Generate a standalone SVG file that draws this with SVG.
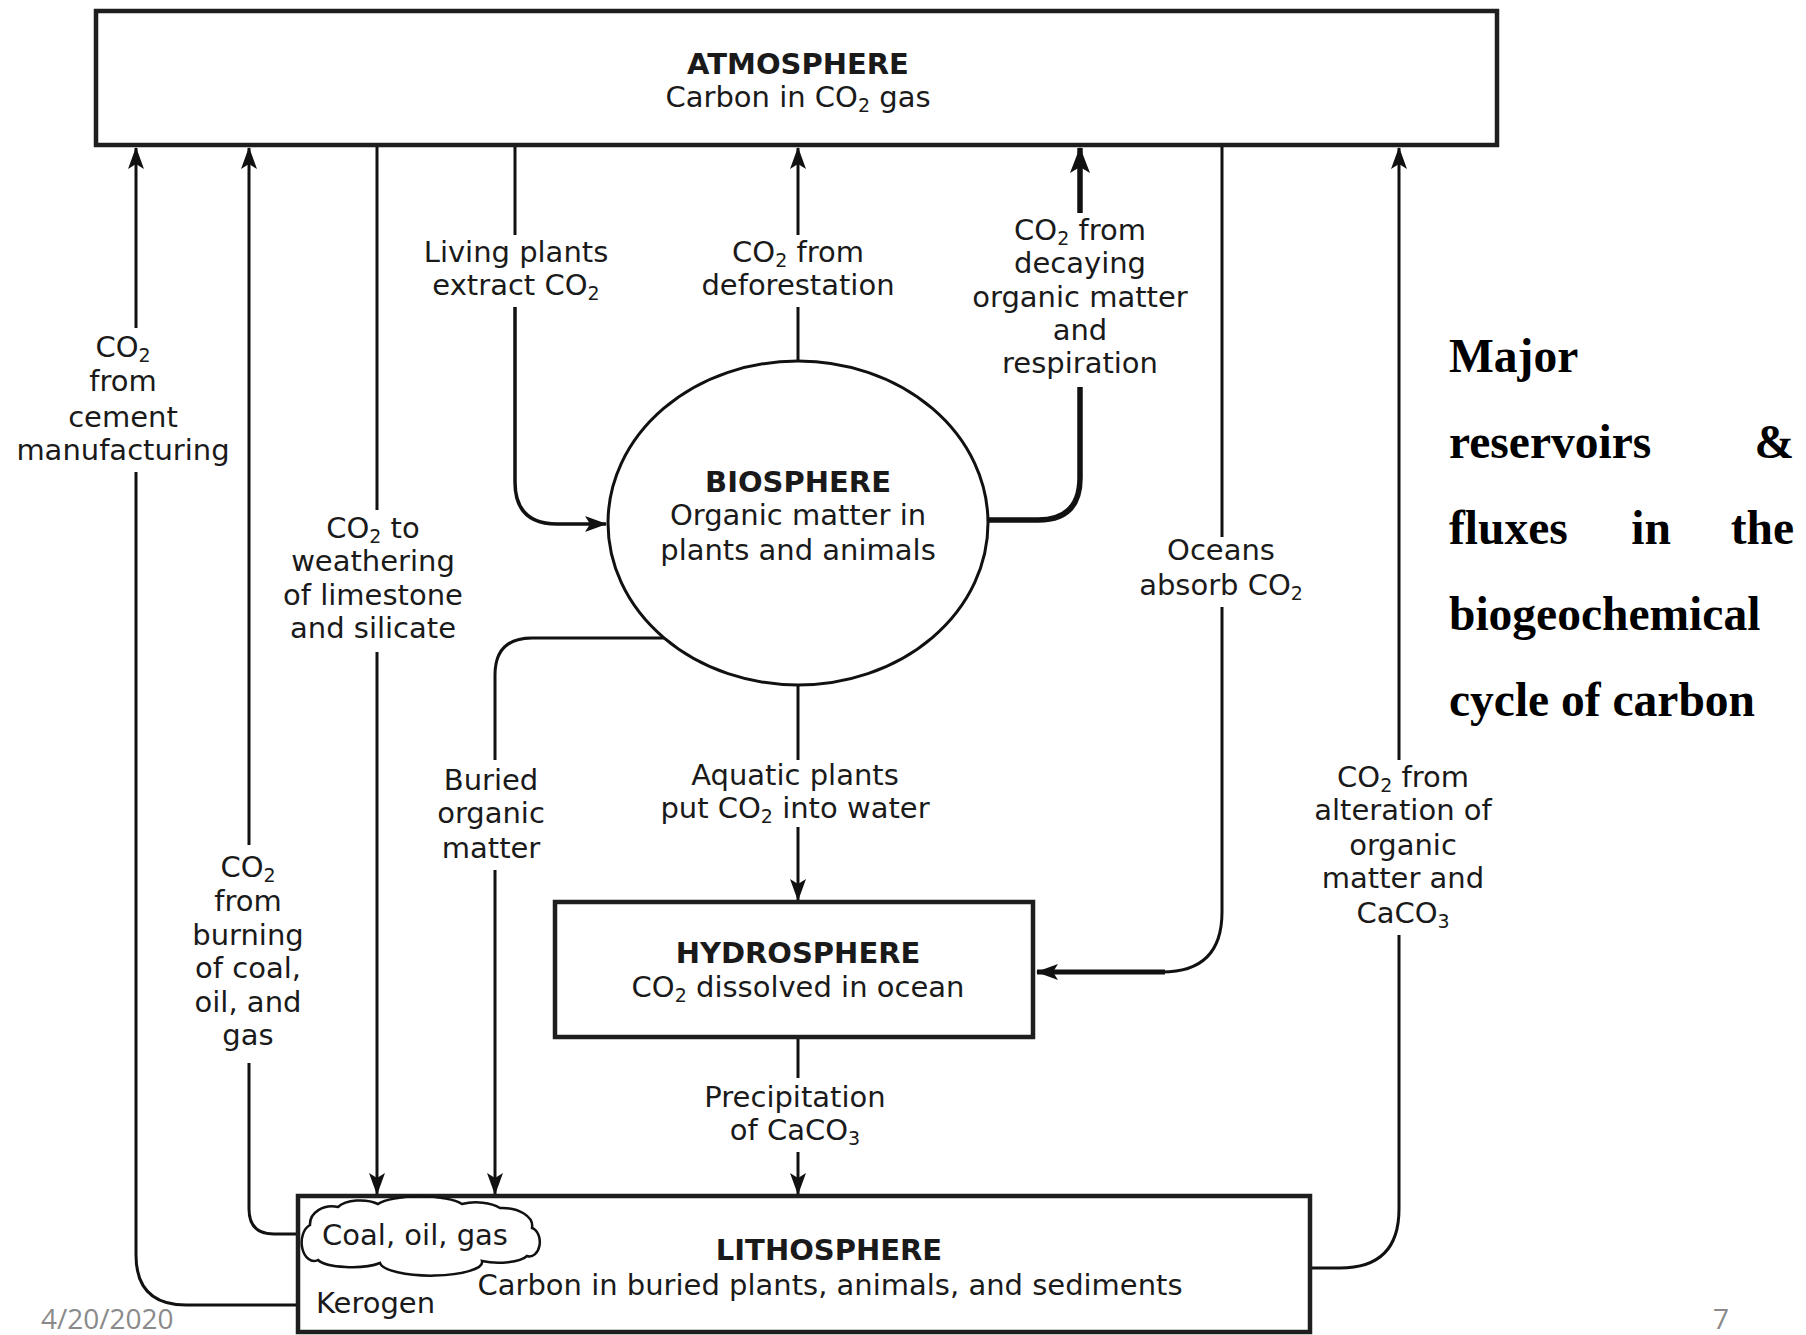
<svg xmlns="http://www.w3.org/2000/svg" width="1806" height="1335" viewBox="0 0 1806 1335">
<defs>
<style>
.t{font-family:"DejaVu Sans",sans-serif;font-size:29px;fill:#1a1a1a;text-anchor:middle}
.b{font-weight:bold}
.s{font-size:19px}
.c{fill:none;stroke:#111;stroke-width:3}
.k{stroke-width:5.5}
.box{fill:#fff;stroke:#1e1e1e;stroke-width:4.5}
.ttl{font-family:"Liberation Serif",serif;font-weight:bold;font-size:47.5px;fill:#000}
.ft{font-family:"Open Sans",sans-serif;font-size:28px;fill:#8a8a8a}
</style>
<marker id="ah" viewBox="0 0 22 16" refX="21" refY="8" markerWidth="22" markerHeight="16" markerUnits="userSpaceOnUse" orient="auto"><path d="M0,0 L22,8 L0,16 L5,8 Z" fill="#111"/></marker>
<marker id="ahk" viewBox="0 0 26 20" refX="25" refY="10" markerWidth="26" markerHeight="20" markerUnits="userSpaceOnUse" orient="auto"><path d="M0,0 L26,10 L0,20 L6,10 Z" fill="#111"/></marker>
</defs>
<rect width="1806" height="1335" fill="#fff"/>

<g id="connectors">
<!-- cement -->
<path class="c" d="M298,1305 L186,1305 Q136,1305 136,1255 L136,472"/>
<path class="c" d="M136,328 L136,148" marker-end="url(#ah)"/>
<!-- burning -->
<path class="c" d="M298,1234 L274,1234 Q249,1234 249,1209 L249,1063"/>
<path class="c" d="M249,845 L249,148" marker-end="url(#ah)"/>
<!-- weathering -->
<path class="c" d="M377,145 L377,510"/>
<path class="c" d="M377,652 L377,1194" marker-end="url(#ah)"/>
<!-- living plants -->
<path class="c" d="M515,145 L515,235"/>
<path class="c" style="stroke-width:3.5" d="M515,307 L515,482 Q515,524 557,524 L606,524" marker-end="url(#ah)"/>
<!-- deforestation -->
<path class="c" d="M798,361 L798,307"/>
<path class="c" d="M798,235 L798,148" marker-end="url(#ah)"/>
<!-- decaying -->
<path class="c k" d="M988,520 L1038,520 Q1080,520 1080,478 L1080,387"/>
<path class="c k" d="M1080,213 L1080,148" marker-end="url(#ahk)"/>
<!-- oceans absorb -->
<path class="c" d="M1222,145 L1222,537"/>
<path class="c" d="M1222,607 L1222,912 Q1222,972 1162,972 L1060,972"/>
<path class="c" style="stroke-width:5" d="M1165,972 L1037,972" marker-end="url(#ah)"/>
<!-- alteration -->
<path class="c" d="M1310,1268 L1340,1268 Q1399,1268 1399,1209 L1399,935"/>
<path class="c" d="M1399,760 L1399,148" marker-end="url(#ah)"/>
<!-- buried organic matter -->
<path class="c" d="M664,638 L532,638 Q495,638 495,675 L495,760"/>
<path class="c" d="M495,870 L495,1194" marker-end="url(#ah)"/>
<!-- aquatic plants -->
<path class="c" d="M798,685 L798,760"/>
<path class="c" d="M798,827 L798,900" marker-end="url(#ah)"/>
<!-- precipitation -->
<path class="c" d="M798,1037 L798,1078"/>
<path class="c" d="M798,1152 L798,1194" marker-end="url(#ah)"/>
</g>

<g id="atmosphere">
<rect class="box" x="96" y="11" width="1401" height="134"/>
<text class="t b" x="798" y="74">ATMOSPHERE</text>
<text class="t" x="798" y="107">Carbon in CO<tspan class="s" dy="5">2</tspan><tspan dy="-5"> gas</tspan></text>
</g>

<g id="biosphere">
<ellipse cx="798" cy="523" rx="190" ry="162" fill="#fff" stroke="#111" stroke-width="3"/>
<text class="t b" x="798" y="492">BIOSPHERE</text>
<text class="t" x="798" y="525">Organic matter in</text>
<text class="t" x="798" y="560">plants and animals</text>
</g>

<g id="hydrosphere">
<rect class="box" x="555" y="902" width="478" height="135"/>
<text class="t b" x="798" y="963">HYDROSPHERE</text>
<text class="t" x="798" y="997">CO<tspan class="s" dy="5">2</tspan><tspan dy="-5"> dissolved in ocean</tspan></text>
</g>

<g id="lithosphere">
<rect class="box" x="298" y="1196" width="1012" height="136"/>
<path d="M310,1225 A22,18 0 0 1 338,1207 A25,12 0 0 1 378,1204 A45,12 0 0 1 462,1204 A30,14 0 0 1 500,1208 A30,18 0 0 1 532,1228 A10,14 0 0 1 527,1256 A30,10 0 0 1 482,1261 A45,12 0 0 1 380,1263 A35,10 0 0 1 318,1260 A12,18 0 0 1 310,1225 Z" fill="none" stroke="#111" stroke-width="2.5"/>
<text class="t" x="415" y="1245">Coal, oil, gas</text>
<text class="t" x="316" y="1313" style="text-anchor:start">Kerogen</text>
<text class="t b" x="829" y="1260">LITHOSPHERE</text>
<text class="t" x="830" y="1295">Carbon in buried plants, animals, and sediments</text>
</g>

<g id="labels">
<text class="t" x="516" y="262">Living plants</text>
<text class="t" x="516" y="295">extract CO<tspan class="s" dy="5">2</tspan></text>

<text class="t" x="798" y="262">CO<tspan class="s" dy="5">2</tspan><tspan dy="-5"> from</tspan></text>
<text class="t" x="798" y="295">deforestation</text>

<text class="t" x="1080" y="240">CO<tspan class="s" dy="5">2</tspan><tspan dy="-5"> from</tspan></text>
<text class="t" x="1080" y="273">decaying</text>
<text class="t" x="1080" y="307">organic matter</text>
<text class="t" x="1080" y="340">and</text>
<text class="t" x="1080" y="373">respiration</text>

<text class="t" x="123" y="357">CO<tspan class="s" dy="5">2</tspan></text>
<text class="t" x="123" y="391">from</text>
<text class="t" x="123" y="427">cement</text>
<text class="t" x="123" y="460">manufacturing</text>

<text class="t" x="373" y="538">CO<tspan class="s" dy="5">2</tspan><tspan dy="-5"> to</tspan></text>
<text class="t" x="373" y="571">weathering</text>
<text class="t" x="373" y="605">of limestone</text>
<text class="t" x="373" y="638">and silicate</text>

<text class="t" x="1221" y="560">Oceans</text>
<text class="t" x="1221" y="595">absorb CO<tspan class="s" dy="5">2</tspan></text>

<text class="t" x="491" y="790">Buried</text>
<text class="t" x="491" y="823">organic</text>
<text class="t" x="491" y="858">matter</text>

<text class="t" x="795" y="785">Aquatic plants</text>
<text class="t" x="795" y="818">put CO<tspan class="s" dy="5">2</tspan><tspan dy="-5"> into water</tspan></text>

<text class="t" x="1403" y="787">CO<tspan class="s" dy="5">2</tspan><tspan dy="-5"> from</tspan></text>
<text class="t" x="1403" y="820">alteration of</text>
<text class="t" x="1403" y="855">organic</text>
<text class="t" x="1403" y="888">matter and</text>
<text class="t" x="1403" y="923">CaCO<tspan class="s" dy="5">3</tspan></text>

<text class="t" x="248" y="877">CO<tspan class="s" dy="5">2</tspan></text>
<text class="t" x="248" y="911">from</text>
<text class="t" x="248" y="945">burning</text>
<text class="t" x="248" y="978">of coal,</text>
<text class="t" x="248" y="1012">oil, and</text>
<text class="t" x="248" y="1045">gas</text>

<text class="t" x="795" y="1107">Precipitation</text>
<text class="t" x="795" y="1140">of CaCO<tspan class="s" dy="5">3</tspan></text>
</g>

<g id="title">
<text class="ttl" x="1449" y="372">Major</text>
<text class="ttl" x="1449" y="458">reservoirs</text>
<text class="ttl" x="1794" y="458" text-anchor="end">&amp;</text>
<text class="ttl" x="1449" y="544">fluxes</text>
<text class="ttl" x="1651" y="544" text-anchor="middle">in</text>
<text class="ttl" x="1794" y="544" text-anchor="end">the</text>
<text class="ttl" x="1449" y="630">biogeochemical</text>
<text class="ttl" x="1449" y="716">cycle of carbon</text>
</g>

<g id="footer">
<text class="ft" x="41" y="1329">4/20/2020</text>
<text class="ft" x="1713" y="1329">7</text>
</g>
</svg>
